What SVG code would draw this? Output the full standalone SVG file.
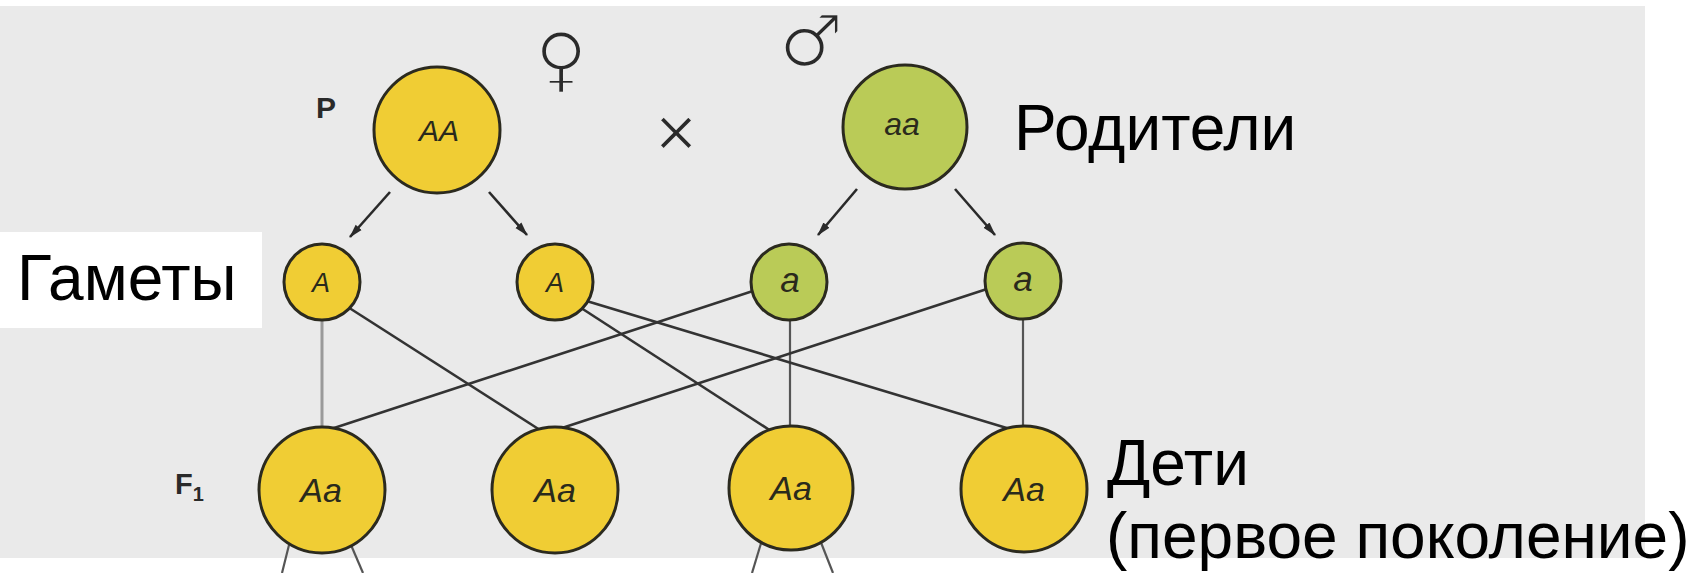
<svg xmlns="http://www.w3.org/2000/svg" width="1699" height="573" viewBox="0 0 1699 573">
<defs>
<marker id="ah" markerWidth="14" markerHeight="10" refX="13" refY="5" orient="auto" markerUnits="userSpaceOnUse">
<path d="M0,1 L14,5 L0,9 Z" fill="#2a2a2a"/>
</marker>
</defs>
<style>
.yel{fill:#f0cd34;stroke:#2b2a1f;stroke-width:3}
.grn{fill:#bacb57;stroke:#2b2a1f;stroke-width:3}
.gt{font-family:"Liberation Sans",Arial,sans-serif;font-style:italic;fill:#2a2a1c;text-anchor:middle}
.lbl{font-family:"Liberation Sans",Arial,sans-serif;font-size:64px;fill:#000}
.ln{stroke:#333333;stroke-width:2.6;fill:none}
.vl{stroke:#555555;stroke-width:2.2;fill:none}
.vg{stroke:#9a9a9a;stroke-width:3;fill:none}
.arr{stroke:#2a2a2a;stroke-width:2.6;fill:none;marker-end:url(#ah)}
.sym{font-family:"DejaVu Sans",sans-serif;fill:#2a2a2a;text-anchor:middle;stroke:#eaeaea;stroke-width:2.6}
.x{font-family:"Liberation Sans",Arial,sans-serif;fill:#2a2a2a;text-anchor:middle;stroke:#eaeaea;stroke-width:1.4}
.bold{font-family:"Liberation Sans",Arial,sans-serif;font-weight:bold;fill:#2a2a2a}
</style>
<rect x="0" y="0" width="1699" height="573" fill="#ffffff"/>
<rect x="0" y="6" width="1645" height="552" fill="#eaeaea"/>
<rect x="0" y="232" width="262" height="96" fill="#ffffff"/>

<g id="connectors">
<line class="arr" x1="390" y1="192" x2="350" y2="237"/>
<line class="arr" x1="489" y1="192" x2="527" y2="235"/>
<line class="arr" x1="857" y1="189" x2="818" y2="235"/>
<line class="arr" x1="955" y1="189" x2="995" y2="235"/>
<line class="vg" x1="322" y1="282" x2="322" y2="490"/>
<line class="vl" x1="790" y1="282" x2="790" y2="490"/>
<line class="vl" x1="1023" y1="282" x2="1023" y2="490"/>
<line class="ln" x1="340" y1="302" x2="540" y2="430"/>
<line class="ln" x1="765" y1="287" x2="331" y2="429"/>
<line class="ln" x1="575" y1="304" x2="771" y2="431"/>
<line class="ln" x1="580" y1="299" x2="1010" y2="429"/>
<line class="ln" x1="990" y1="288" x2="562" y2="428"/>
<line class="vl" x1="289" y1="545" x2="282" y2="573"/>
<line class="vl" x1="351" y1="545" x2="363" y2="573"/>
<line class="vl" x1="762" y1="540" x2="752" y2="573"/>
<line class="vl" x1="820" y1="540" x2="833" y2="573"/>
</g>

<g id="parent-AA">
<circle class="yel" cx="437" cy="130" r="63"/>
<text class="gt" x="439" y="141" font-size="30">AA</text>
</g>
<g id="parent-aa">
<circle class="grn" cx="905" cy="127" r="62"/>
<text class="gt" x="902" y="135" font-size="32">aa</text>
</g>

<g id="gamete-A1">
<circle class="yel" cx="322" cy="282" r="38"/>
<text class="gt" x="321" y="292" font-size="27">A</text>
</g>
<g id="gamete-A2">
<circle class="yel" cx="555" cy="282" r="38"/>
<text class="gt" x="555" y="292" font-size="27">A</text>
</g>
<g id="gamete-a1">
<circle class="grn" cx="789" cy="282" r="38"/>
<text class="gt" x="790" y="292" font-size="35">a</text>
</g>
<g id="gamete-a2">
<circle class="grn" cx="1023" cy="281" r="38"/>
<text class="gt" x="1023" y="291" font-size="35">a</text>
</g>

<g id="f1-1">
<circle class="yel" cx="322" cy="490" r="63"/>
<text class="gt" x="321" y="502" font-size="34">Aa</text>
</g>
<g id="f1-2">
<circle class="yel" cx="555" cy="490" r="63"/>
<text class="gt" x="555" y="502" font-size="34">Aa</text>
</g>
<g id="f1-3">
<circle class="yel" cx="791" cy="488" r="62"/>
<text class="gt" x="791" y="500" font-size="34">Aa</text>
</g>
<g id="f1-4">
<circle class="yel" cx="1024" cy="489" r="63"/>
<text class="gt" x="1024" y="501" font-size="34">Aa</text>
</g>

<g id="symbols">
<text class="sym" x="561" y="84" font-size="72">♀</text>
<text class="sym" x="811" y="66" font-size="72">♂</text>
<text class="x" x="676" y="157" font-size="72">×</text>
<text class="bold" x="316" y="118" font-size="30">P</text>
<text class="bold" x="175" y="494" font-size="29">F<tspan font-size="20" dy="7">1</tspan></text>
</g>

<g id="labels">
<text class="lbl" x="1014" y="150">Родители</text>
<text class="lbl" x="17" y="300">Гаметы</text>
<text class="lbl" x="1107" y="485">Дети</text>
<text class="lbl" x="1106" y="558">(первое поколение)</text>
</g>
</svg>
